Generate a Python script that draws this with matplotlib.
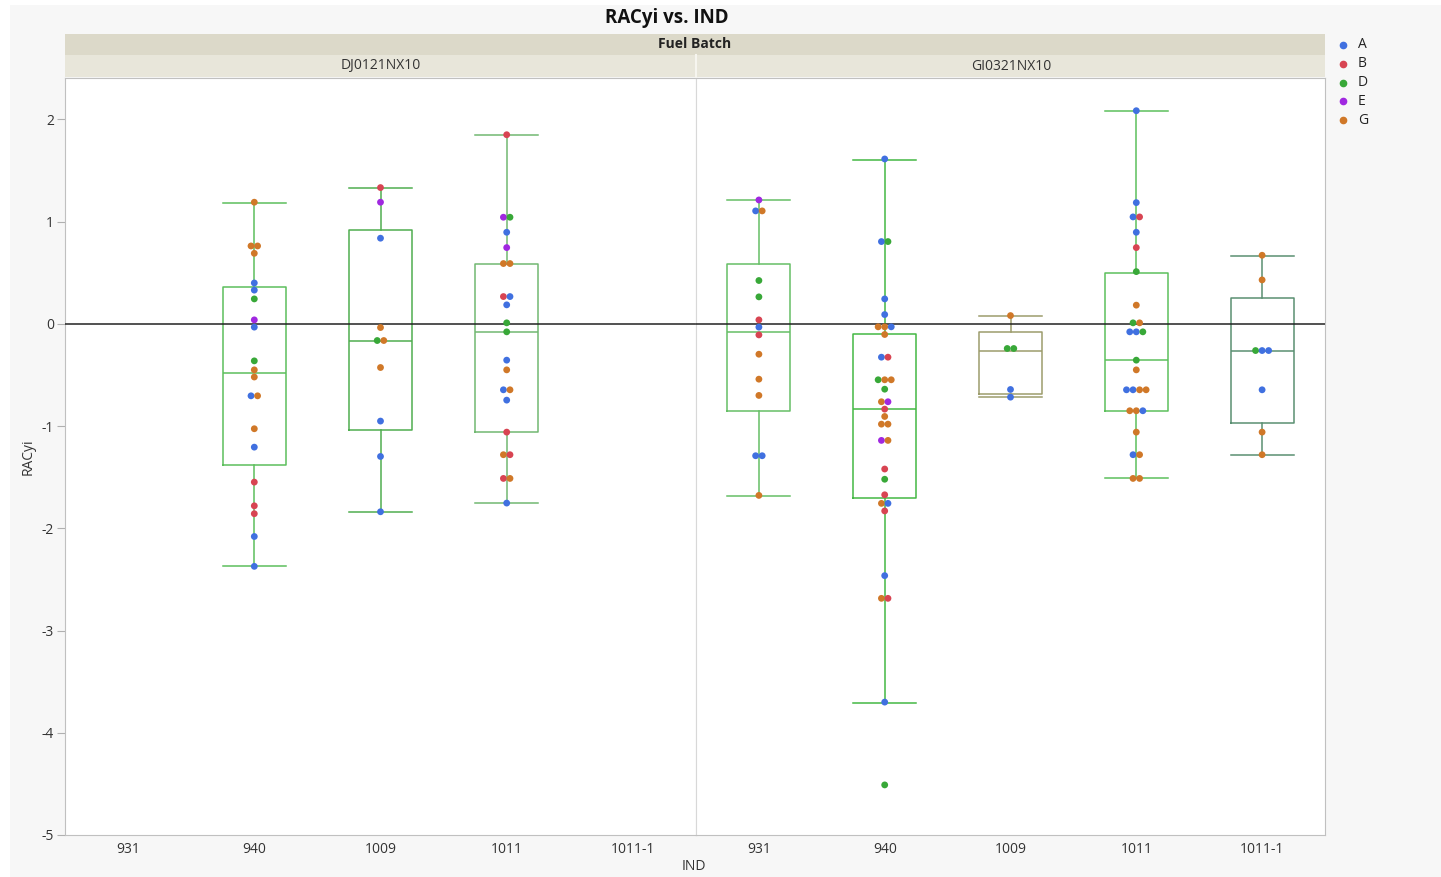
import numpy as np
import matplotlib
matplotlib.use('Agg')
import matplotlib.pyplot as plt
from matplotlib.patches import Rectangle

plt.rcParams['font.family'] = ['Open Sans', 'DejaVu Sans']

# categories and panels
cats = ['931', '940', '1009', '1011', '1011-1']
panels = ['DJ0121NX10', 'GI0321NX10']
groups = ['A', 'B', 'D', 'E', 'G']
gcolors = {'A': '#4070E0', 'B': '#D84452', 'D': '#38A838', 'E': '#A028E0', 'G': '#D07828'}

# points: RACyi values and group letter, per panel / IND
dj_940_y = [1.19, 0.762, 0.762, 0.69, 0.40, 0.33, 0.244, 0.039, -0.032, -0.362, -0.45, -0.52,
            -0.704, -0.704, -1.026, -1.206, -1.548, -1.78, -1.857, -2.08, -2.372]
dj_940_g = list('GGGGAADEADGGAGGABBBAA')
dj_1009_y = [1.333, 1.19, 0.838, -0.036, -0.163, -0.163, -0.427, -0.951, -1.297, -1.838]
dj_1009_g = list('BEAGDGGAAA')
dj_1011_y = [1.85, 1.043, 1.043, 0.896, 0.746, 0.59, 0.59, 0.267, 0.267, 0.186, 0.01, -0.078,
             -0.355, -0.45, -0.645, -0.645, -0.746, -1.059, -1.28, -1.28, -1.512, -1.512, -1.753]
dj_1011_g = list('BEDAEGGBAADDAGAGABGBBGA')

gi_931_y = [1.212, 1.105, 1.105, 0.424, 0.264, 0.039, -0.032, -0.108, -0.297, -0.541, -0.70,
            -1.29, -1.29, -1.678]
gi_931_g = list('EAGDDBABGGGAAG')
gi_940_y = [1.613, 0.805, 0.805, 0.244, 0.091, -0.029, -0.029, -0.029, -0.104, -0.326, -0.326,
            -0.547, -0.547, -0.547, -0.639, -0.762, -0.762, -0.834, -0.906, -0.981, -0.981,
            -1.14, -1.14, -1.42, -1.52, -1.672, -1.756, -1.756, -1.83, -2.463, -2.685, -2.685,
            -3.70, -4.51]
gi_940_g = list('AADAAGGAGABDGGDGEBGGGEGBDBGABAGBAD')
gi_1009_y = [0.081, -0.241, -0.241, -0.642, -0.717]
gi_1009_g = list('GDDAA')
gi_1011_y = [2.085, 1.186, 1.046, 1.046, 0.896, 0.746, 0.511, 0.183, 0.01, 0.01, -0.078, -0.078,
             -0.078, -0.355, -0.45, -0.645, -0.645, -0.645, -0.645, -0.85, -0.85, -0.85, -1.059,
             -1.28, -1.28, -1.512, -1.512]
gi_1011_g = list('AAABABDGDGAADDGAAGGGGAGAGGG')
gi_10111_y = [0.671, 0.43, -0.261, -0.261, -0.261, -0.645, -1.059, -1.28]
gi_10111_g = list('GGDAAAGG')

# box stats: whislo, q1, med, q3, whishi
dj_box = {1: [-2.372, -1.378, -0.476, 0.359, 1.186],
          2: [-1.838, -1.036, -0.163, 0.916, 1.333],
          3: [-1.753, -1.062, -0.078, 0.59, 1.85]}
gi_box = {0: [-1.681, -0.857, -0.082, 0.587, 1.209],
          1: [-3.705, -1.704, -0.831, -0.104, 1.606],
          2: [-0.72, -0.684, -0.261, -0.082, 0.078],
          3: [-1.512, -0.857, -0.358, 0.502, 2.085],
          4: [-1.28, -0.965, -0.261, 0.257, 0.664]}
dj_col = {1: '#5cbf5c', 2: '#4fae4f', 3: '#72b872'}
gi_col = {0: '#66bf66', 1: '#44b844', 2: '#9c9c6c', 3: '#5cc05c', 4: '#5a8f72'}

dj_pts = {1: (dj_940_y, dj_940_g), 2: (dj_1009_y, dj_1009_g), 3: (dj_1011_y, dj_1011_g)}
gi_pts = {0: (gi_931_y, gi_931_g), 1: (gi_940_y, gi_940_g), 2: (gi_1009_y, gi_1009_g),
          3: (gi_1011_y, gi_1011_g), 4: (gi_10111_y, gi_10111_g)}

W, H = 1441, 877
fig = plt.figure(figsize=(W / 100, H / 100), dpi=100)
fig.patch.set_facecolor('white')

def fr(x0, y0, x1, y1):
    return [x0 / W, 1 - y1 / H, (x1 - x0) / W, (y1 - y0) / H]

fig.patches.append(Rectangle((10 / W, 0), 1, 1 - 5 / H, transform=fig.transFigure,
                             facecolor='#f7f7f7', edgecolor='none', zorder=-10))
# header bands
fig.patches.append(Rectangle((65 / W, 1 - 55 / H), 1260 / W, 21 / H, transform=fig.transFigure,
                             facecolor='#dcd9c9', edgecolor='none'))
fig.patches.append(Rectangle((65 / W, 1 - 77 / H), 1260 / W, 22 / H, transform=fig.transFigure,
                             facecolor='#e8e6da', edgecolor='none'))
fig.add_artist(plt.Line2D([696 / W, 696 / W], [1 - 77 / H, 1 - 55 / H], color='#f6f5ef', lw=1.5))
fig.text(695 / W, 1 - 44 / H, 'Fuel Batch', ha='center', va='center', fontsize=10,
         fontweight='bold', color='#222')
fig.text(381 / W, 1 - 66 / H, panels[0], ha='center', va='center', fontsize=10, color='#333')
fig.text(1011 / W, 1 - 66 / H, panels[1], ha='center', va='center', fontsize=10, color='#333')
fig.text(667 / W, 1 - 18 / H, 'RACyi vs. IND', ha='center', va='center', fontsize=13.5,
         fontweight='bold', color='#111')

ax1 = fig.add_axes(fr(65, 78, 696, 835))
ax2 = fig.add_axes(fr(696, 78, 1325, 835))

def draw(ax, boxes, cols, pts):
    for p, v in boxes.items():
        s = dict(whislo=v[0], q1=v[1], med=v[2], q3=v[3], whishi=v[4], fliers=[])
        c = cols[p]
        ax.bxp([s], positions=[p], widths=0.5, capwidths=0.5, showfliers=False,
               boxprops=dict(color=c, lw=1.1), medianprops=dict(color=c, lw=1.1),
               whiskerprops=dict(color=c, lw=1.1), capprops=dict(color=c, lw=1.1),
               manage_ticks=False, zorder=2)
    for k, (ys, gs) in pts.items():
        ys = np.array(ys)
        xs = np.zeros(len(ys))
        for val in np.unique(ys):
            idx = np.where(ys == val)[0]
            n = len(idx)
            xs[idx] = k + (np.arange(n) - (n - 1) / 2) * 0.052
        ax.scatter(xs, ys, s=24, c=[gcolors[g] for g in gs], edgecolors='none', zorder=4)
    ax.axhline(0, color='#222', lw=1.1, zorder=3)
    ax.set_xlim(-0.5, 4.5)
    ax.set_ylim(-5, 2.405)
    ax.set_xticks(range(5))
    ax.set_xticklabels(cats, fontsize=10, color='#333')
    ax.tick_params(axis='x', length=0, pad=5)
    for sp in ax.spines.values():
        sp.set_color('#c0c0c0')

draw(ax1, dj_box, dj_col, dj_pts)
draw(ax2, gi_box, gi_col, gi_pts)

ax1.set_yticks([-5, -4, -3, -2, -1, 0, 1, 2])
ax1.set_yticklabels(['-5', '-4', '-3', '-2', '-1', '0', '1', '2'], fontsize=10, color='#333')
ax1.tick_params(axis='y', length=6, color='#b0b0b0', pad=2)
ax1.spines['right'].set_color('#d8d8d8')
ax2.spines['left'].set_color('#d8d8d8')
ax2.set_yticks([])
ax1.set_ylabel('RACyi', fontsize=10, color='#333', labelpad=4)

fig.text(694 / W, 1 - 866 / H, 'IND', ha='center', va='center', fontsize=10, color='#333')

# legend
for i, g in enumerate(groups):
    yy = 1 - (45 + i * 18.8) / H
    fig.add_artist(plt.Line2D([1343 / W], [yy], marker='o', ms=4.5, color=gcolors[g], lw=0))
    fig.text(1358 / W, yy, g, ha='left', va='center', fontsize=10, color='#222')

fig.savefig('out.png', dpi=100, facecolor=fig.get_facecolor())
